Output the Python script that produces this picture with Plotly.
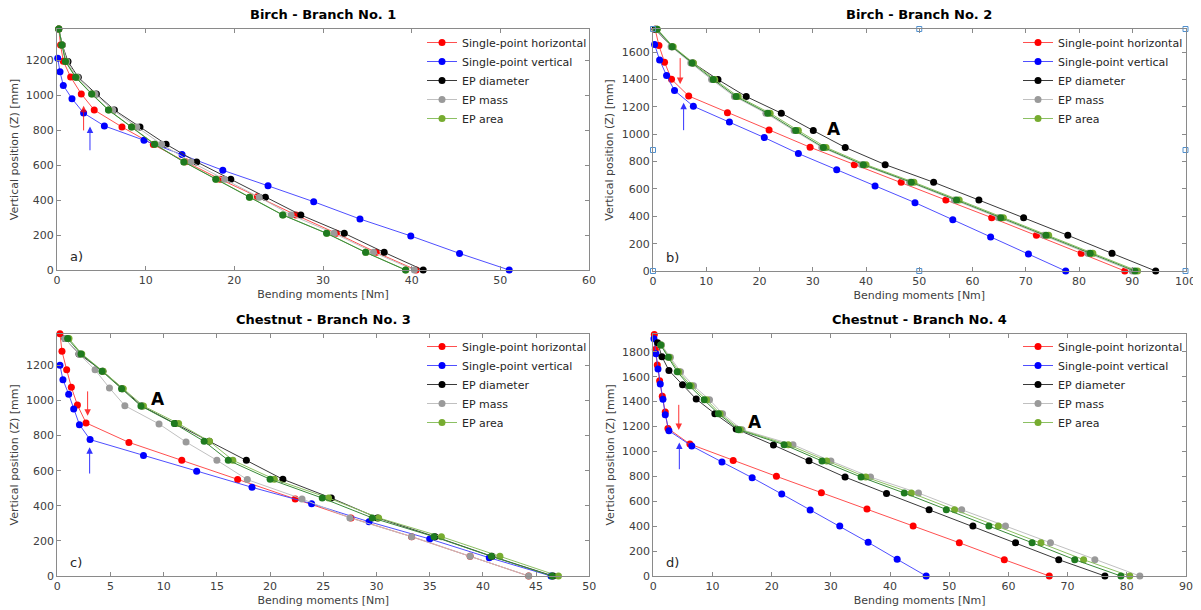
import plotly.graph_objects as go

# ---------------- data ----------------
series_names = ["Single-point horizontal", "Single-point vertical", "EP diameter", "EP mass", "EP area"]
titles = ["Birch - Branch No. 1", "Birch - Branch No. 2", "Chestnut - Branch No. 3", "Chestnut - Branch No. 4"]
panel_tags = ["a)", "b)", "c)", "d)"]

# Panel a - Birch 1
a_red_x = [0.2, 0.4, 0.71, 1.54, 2.74, 4.2, 7.33, 10.86, 14.5, 18.4, 22.6, 26.95, 31.5, 36.0, 40.5]
a_red_y = [1380, 1288, 1196, 1105, 1008, 916, 819, 718, 620, 520, 420, 315, 210, 101, 0]
a_blue_x = [0.08, 0.34, 0.71, 1.69, 3.0, 5.34, 9.81, 14.1, 18.7, 23.8, 28.95, 34.17, 39.9, 45.4, 51.0]
a_blue_y = [1212, 1135, 1057, 981, 899, 825, 743, 661, 571, 482, 391, 292, 195, 95, 0]
a_ep_y = [1380, 1288, 1194, 1103, 1008, 916, 819, 720, 619, 520, 417, 315, 210, 101, 0]
a_black_x = [0.2, 0.6, 1.24, 2.4, 4.44, 6.47, 9.36, 12.3, 15.75, 19.6, 23.5, 27.5, 32.4, 36.9, 41.3]
a_grey_x = [0.2, 0.6, 1.1, 2.3, 4.3, 6.3, 9.0, 11.8, 15.1, 18.9, 22.8, 26.4, 31.25, 35.7, 40.3]
a_lgreen_x = [0.2, 0.55, 0.98, 2.15, 3.95, 5.85, 8.45, 11.05, 14.35, 17.95, 21.75, 25.5, 30.45, 34.85, 39.35]
a_dgreen_x = [0.2, 0.53, 0.95, 2.1, 3.9, 5.8, 8.4, 11.0, 14.3, 17.9, 21.7, 25.45, 30.4, 34.8, 39.3]

# Panel b - Birch 2
b_red_x = [0.4, 1.12, 2.17, 3.48, 6.7, 13.98, 21.8, 29.5, 37.8, 46.6, 55.0, 63.6, 72.0, 80.4, 88.6]
b_red_y = [1768, 1649, 1527, 1402, 1280, 1158, 1032, 905, 778, 649, 519, 390, 261, 129, 0]
b_blue_x = [0.3, 1.24, 2.55, 4.04, 7.58, 14.35, 20.9, 27.3, 34.5, 41.7, 49.2, 56.3, 63.4, 70.5, 77.5]
b_blue_y = [1656, 1544, 1429, 1320, 1205, 1090, 976, 859, 741, 622, 500, 375, 249, 124, 0]
b_ep_y = [1768, 1641, 1522, 1400, 1276, 1154, 1027, 904, 778, 649, 519, 390, 261, 129, 0]
b_black_x = [0.4, 3.5, 7.5, 12.2, 17.5, 24.1, 30.1, 36.1, 43.6, 52.7, 61.2, 69.6, 77.9, 86.2, 94.4]
b_grey_x = [0.7, 3.4, 7.1, 11.0, 15.3, 21.2, 26.5, 31.7, 39.2, 48.2, 56.6, 64.9, 73.4, 81.7, 90.0]
b_lgreen_x = [0.8, 3.8, 7.6, 11.6, 16.0, 22.0, 27.3, 32.5, 40.0, 49.0, 57.5, 65.8, 74.3, 82.6, 91.0]
b_dgreen_x = [0.75, 3.6, 7.33, 11.3, 15.6, 21.55, 26.8, 32.0, 39.5, 48.5, 57.0, 65.3, 73.8, 82.1, 90.5]
b_handle_x = [0, 0, 0, 50, 100, 100, 100, 50]
b_handle_y = [0, 885, 1770, 1770, 1770, 885, 0, 0]

# Panel c - Chestnut 3
c_red_x = [0.25, 0.44, 0.88, 1.32, 1.89, 2.7, 6.73, 11.7, 16.95, 22.36, 27.6, 33.3, 38.8, 44.3]
c_red_y = [1380, 1280, 1175, 1075, 974, 872, 761, 659, 549, 439, 331, 224, 112, 0]
c_blue_x = [0.25, 0.53, 1.07, 1.54, 2.08, 3.08, 8.1, 13.1, 18.3, 23.9, 29.3, 35.0, 40.6, 46.4]
c_blue_y = [1200, 1118, 1035, 951, 862, 777, 687, 596, 505, 412, 309, 211, 104, 0]
c_ep_y = [1352, 1265, 1166, 1067, 968, 868, 767, 659, 551, 444, 331, 224, 112, 0]
c_black_x = [0.72, 2.04, 4.28, 6.1, 7.96, 11.07, 14.28, 17.77, 21.2, 25.75, 30.1, 35.5, 40.85, 46.6]
c_grey_x = [0.72, 2.04, 3.55, 4.9, 6.35, 9.56, 12.1, 15.0, 17.86, 23.0, 27.5, 33.3, 38.8, 44.3]
c_grey_y = [1352, 1265, 1174, 1071, 970, 866, 763, 659, 549, 439, 331, 224, 112, 0]
c_lgreen_x = [1.1, 2.3, 4.3, 6.2, 8.1, 11.4, 14.3, 16.5, 20.4, 25.5, 30.2, 36.1, 41.6, 47.1]
c_dgreen_x = [0.97, 2.23, 4.2, 6.04, 7.86, 11.0, 13.8, 16.07, 20.0, 24.9, 29.6, 35.4, 40.8, 46.5]

# Panel d - Chestnut 4
d_red_x = [0.17, 0.34, 0.67, 1.07, 1.52, 2.02, 2.47, 6.18, 13.5, 20.8, 28.4, 36.1, 43.9, 51.7, 59.3, 66.9]
d_red_y = [1939, 1819, 1693, 1568, 1442, 1316, 1185, 1059, 928, 800, 669, 538, 401, 267, 131, 0]
d_blue_x = [0.11, 0.45, 0.79, 1.18, 1.63, 2.02, 2.64, 6.5, 11.6, 16.7, 21.7, 26.5, 31.5, 36.3, 41.2, 46.1]
d_blue_y = [1905, 1784, 1661, 1541, 1418, 1295, 1166, 1043, 915, 789, 658, 530, 401, 270, 134, 0]
d_black_x = [0.73, 1.46, 2.64, 4.94, 7.25, 10.4, 14.0, 20.3, 26.3, 32.4, 39.4, 46.6, 54.0, 61.2, 68.5, 76.3]
d_black_y = [1872, 1760, 1650, 1535, 1420, 1303, 1180, 1051, 925, 794, 663, 532, 401, 267, 131, 0]
d_ep_y = [1854, 1755, 1640, 1527, 1415, 1303, 1174, 1054, 923, 794, 666, 532, 401, 267, 131, 0]
d_grey_x = [1.4, 2.9, 4.6, 6.8, 9.5, 11.7, 15.0, 23.6, 30.0, 36.7, 44.8, 52.1, 59.5, 67.1, 74.6, 82.2]
d_lgreen_x = [1.3, 2.7, 4.3, 6.4, 9.0, 11.3, 14.7, 22.8, 29.3, 35.9, 43.6, 50.9, 58.3, 65.5, 72.7, 80.5]
d_dgreen_x = [1.24, 2.53, 4.04, 6.07, 8.6, 11.0, 14.4, 22.1, 28.5, 35.1, 42.4, 49.5, 56.7, 64.0, 71.2, 79.0]

# axis ranges / ticks
x_ranges = [[0, 60], [0, 100], [0, 50], [0, 90]]
x_dticks = [10, 10, 5, 10]
y_ranges = [[0, 1380], [0, 1770], [0, 1380], [0, 1945]]

# arrows: (x, y_tail, y_head, colour) per panel ; "A" label positions
arrows = [
    [(3.0, 791, 940, "red"), (3.72, 677, 822, "blue")],
    [(5.1, 1568, 1368, "red"), (5.75, 1019, 1231, "blue")],
    [(2.85, 1060, 912, "red"), (3.04, 575, 733, "blue")],
    [(4.3, 1386, 1172, "red"), (4.4, 845, 1072, "blue")],
]
A_labels = [None, (33.9, 1037), (9.44, 1008), (17.1, 1238)]

panels = [
    dict(red=(a_red_x, a_red_y), blue=(a_blue_x, a_blue_y), black=(a_black_x, a_ep_y),
         grey=(a_grey_x, a_ep_y), lgreen=(a_lgreen_x, a_ep_y), dgreen=(a_dgreen_x, a_ep_y)),
    dict(red=(b_red_x, b_red_y), blue=(b_blue_x, b_blue_y), black=(b_black_x, b_ep_y),
         grey=(b_grey_x, b_ep_y), lgreen=(b_lgreen_x, b_ep_y), dgreen=(b_dgreen_x, b_ep_y)),
    dict(red=(c_red_x, c_red_y), blue=(c_blue_x, c_blue_y), black=(c_black_x, c_ep_y),
         grey=(c_grey_x, c_grey_y), lgreen=(c_lgreen_x, c_ep_y), dgreen=(c_dgreen_x, c_ep_y)),
    dict(red=(d_red_x, d_red_y), blue=(d_blue_x, d_blue_y), black=(d_black_x, d_black_y),
         grey=(d_grey_x, d_ep_y), lgreen=(d_lgreen_x, d_ep_y), dgreen=(d_dgreen_x, d_ep_y)),
]

# ---------------- styling ----------------
# the page body has an 8px margin, so the figure is drawn 8px in from the window corner
OFF = 8
W, H = 1201 - OFF, 610 - OFF
FONT = "DejaVu Sans"
TXT = "#404040"
AXC = "#8a8a8a"

styles = {
    "red": dict(line="rgba(255,60,60,0.9)", marker="#ff0000", name=series_names[0], legend=True),
    "blue": dict(line="rgba(60,60,255,0.9)", marker="#0000ff", name=series_names[1], legend=True),
    "black": dict(line="#3a3a3a", marker="#000000", name=series_names[2], legend=True),
    "grey": dict(line="#c0c0c0", marker="#9a9a9a", name=series_names[3], legend=True),
    "lgreen": dict(line="#8cc063", marker="#77ac30", name=series_names[4], legend=True),
    "dgreen": dict(line="#3a8a3a", marker="#1f7a1f", name="EP area (detail)", legend=False),
}

# window-pixel boxes (left, right, top, bottom) of each plot area
boxes = [(57, 589, 29, 270), (653, 1185.5, 29, 271), (57.3, 589.3, 333.7, 576), (653.3, 1186, 333.7, 576)]
legend_pos = [(422, 28), (1018, 28), (422, 332), (1018, 332)]


def fx(px):
    return (px - OFF) / W


def fy(py):
    return (H - (py - OFF)) / H


fig = go.Figure()
layout = dict(width=W, height=H, margin=dict(l=0, r=0, t=0, b=0, autoexpand=False),
              paper_bgcolor="white", plot_bgcolor="white",
              font=dict(family=FONT, color=TXT, size=11), annotations=[])

for i, p in enumerate(panels):
    xa = "x" if i == 0 else f"x{i+1}"
    ya = "y" if i == 0 else f"y{i+1}"
    lg = "legend" if i == 0 else f"legend{i+1}"
    for key in ["red", "blue", "black", "grey", "lgreen", "dgreen"]:
        st = styles[key]
        xs, ys = p[key]
        fig.add_trace(go.Scatter(
            x=xs, y=ys, mode="lines+markers", name=st["name"],
            line=dict(color=st["line"], width=1),
            marker=dict(color=st["marker"], size=7),
            xaxis=xa, yaxis=ya, legend=lg, showlegend=st["legend"], cliponaxis=False,
        ))
    if i == 1:
        fig.add_trace(go.Scatter(
            x=b_handle_x, y=b_handle_y, mode="markers", showlegend=False,
            marker=dict(symbol="square-open", color="#4f8fce", size=5, line=dict(width=1)),
            xaxis=xa, yaxis=ya, cliponaxis=False, hoverinfo="skip"))

    l, r, t, b = boxes[i]
    axis_common = dict(showgrid=False, zeroline=False, showline=True, linecolor=AXC, linewidth=1,
                       mirror="allticks", ticks="inside", ticklen=4, tickcolor=AXC, automargin=False,
                       tickfont=dict(family=FONT, size=11, color=TXT))
    layout["xaxis" if i == 0 else f"xaxis{i+1}"] = dict(
        axis_common, domain=[fx(l), fx(r)], range=x_ranges[i], dtick=x_dticks[i], tick0=0,
        anchor=ya,
        title=dict(text="Bending moments [Nm]", font=dict(family=FONT, size=11, color=TXT), standoff=4))
    layout["yaxis" if i == 0 else f"yaxis{i+1}"] = dict(
        axis_common, domain=[fy(b), fy(t)], range=y_ranges[i], dtick=200, tick0=0,
        anchor=xa,
        title=dict(text="Vertical position (Z) [mm]", font=dict(family=FONT, size=11, color=TXT), standoff=5))
    lx, ly = legend_pos[i]
    layout[lg] = dict(x=fx(lx), y=fy(ly), xanchor="left", yanchor="top",
                      bgcolor="rgba(255,255,255,0)", borderwidth=0,
                      font=dict(family=FONT, size=11, color="#262626"), itemwidth=30)

    # title
    layout["annotations"].append(dict(
        text=f"<b>{titles[i]}</b>", xref=f"{xa} domain", yref=f"{ya} domain", x=0.5, y=1,
        xanchor="center", yanchor="bottom", yshift=5, showarrow=False,
        font=dict(family=FONT, size=13, color="#000000")))
    # panel tag
    layout["annotations"].append(dict(
        text=panel_tags[i], xref=f"{xa} domain", yref=f"{ya} domain", x=0.02, y=0.015,
        xanchor="left", yanchor="bottom", showarrow=False,
        font=dict(family=FONT, size=13, color="#262626")))
    # arrows
    for (axp, y_tail, y_head, col) in arrows[i]:
        layout["annotations"].append(dict(
            x=axp, y=y_head, ax=axp, ay=y_tail, xref=xa, yref=ya, axref=xa, ayref=ya,
            text="", showarrow=True, arrowhead=2, arrowsize=1.3, arrowwidth=1, arrowcolor=col,
            opacity=0.8))
    if A_labels[i] is not None:
        layout["annotations"].append(dict(
            text="<b>A</b>", x=A_labels[i][0], y=A_labels[i][1], xref=xa, yref=ya,
            showarrow=False, font=dict(family=FONT, size=17, color="#000000")))

fig.update_layout(**layout)
fig.write_html("out.html")
